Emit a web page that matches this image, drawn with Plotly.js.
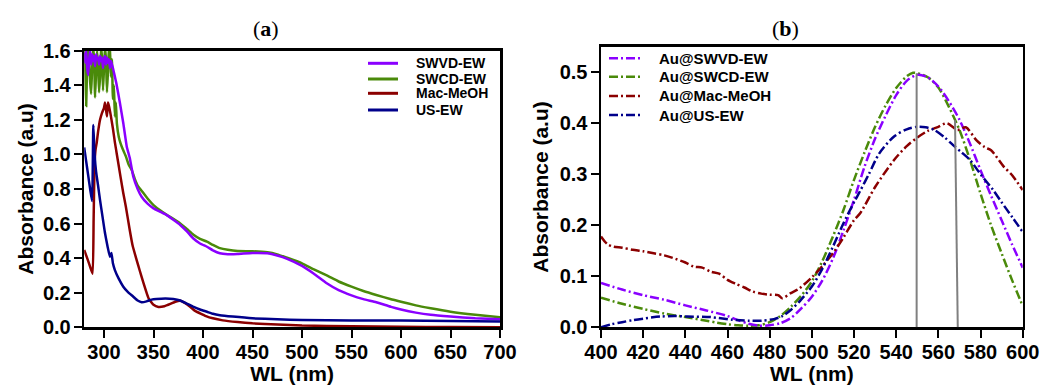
<!DOCTYPE html>
<html><head><meta charset="utf-8">
<script src="https://cdn.plot.ly/plotly-3.0.1.min.js"></script>
<style>html,body{margin:0;padding:0;background:#fff}#chart{width:1041px;height:385px}</style>
</head><body><div id="chart"></div>
<script>
// ---------- Panel (a) data ----------
const namesA = ['SWVD-EW', 'SWCD-EW', 'Mac-MeOH', 'US-EW'];
const aSwvdX = [280,281,282,283,284,285,286,287,288,289,290,291,292,293,294,295,296,297,298,299,300,301,302,303,304,305,306,307,308,309,
  312.5,316,319.5,323,326,329.6,334,338,344,350,357,363,370,377,384,390,397,404,410,417,425,435,450,465,475,485,500,512,525,537,550,562,575,590,600,615,630,650,675,700];
const aSwvdY = [1.59,1.53,1.60,1.50,1.46,1.55,1.60,1.52,1.58,1.54,1.57,1.51,1.58,1.55,1.56,1.52,1.57,1.54,1.56,1.50,1.55,1.57,1.52,1.56,1.53,1.55,1.50,1.54,1.52,1.50,
  1.41,1.30,1.18,1.045,0.98,0.871,0.80,0.755,0.715,0.688,0.668,0.65,0.622,0.592,0.553,0.515,0.485,0.466,0.445,0.428,0.423,0.424,0.43,0.428,0.415,0.396,0.355,0.31,0.255,0.215,0.185,0.163,0.145,0.118,0.103,0.085,0.072,0.062,0.052,0.046];
const aSwcdX = [280,281,282,283,284,285,286,287,288,289,290,291,292,293,294,295,296,297,298,299,300,301,302,303,304,305,306,307,
  308,309,310,311,312,313,315,317,319,322,325,328,331,334,338,344,350,357,363,370,377,384,390,397,404,410,417,425,435,450,465,475,485,500,512,525,537,550,562,575,590,600,615,630,650,675,700];
const aSwcdY = [1.62,1.50,1.28,1.52,1.62,1.55,1.42,1.35,1.50,1.62,1.55,1.33,1.48,1.60,1.52,1.36,1.45,1.62,1.56,1.37,1.50,1.62,1.55,1.36,1.48,1.62,1.60,1.45,
  1.55,1.32,1.40,1.22,1.30,1.18,1.10,1.06,1.03,0.99,0.94,0.91,0.86,0.82,0.79,0.745,0.707,0.675,0.652,0.627,0.60,0.567,0.537,0.512,0.495,0.477,0.458,0.448,0.441,0.44,0.434,0.422,0.402,0.37,0.335,0.30,0.265,0.235,0.21,0.187,0.162,0.148,0.127,0.11,0.09,0.072,0.058];
const aMacX = [280,283,286,288.5,289.5,290.5,291.5,292.6,294,296,298,300,301,302,303,304,305,307,309,311,313,315,317,319.5,322,326,329,333,336,340,345,350,355,361,367,372,377,382,387,392,397,403,410,420,435,450,475,500,550,600,650,700];
const aMacY = [0.447,0.40,0.35,0.31,0.62,0.95,1.03,1.066,1.13,1.20,1.24,1.27,1.30,1.26,1.22,1.30,1.28,1.22,1.15,1.07,1.0,0.93,0.86,0.775,0.70,0.563,0.47,0.389,0.33,0.254,0.168,0.13,0.118,0.122,0.135,0.148,0.154,0.14,0.119,0.095,0.081,0.065,0.052,0.04,0.03,0.023,0.016,0.01,0.006,0.003,0.002,0.001];
const aUsX = [280,282,284,286,288,289.2,290.5,292,294,296,298.5,301,303.5,306,307.5,309,311,315,319.5,324,329.6,334,338,343,348,353,362,370,377,383,390,397,404,410,417,430,450,475,500,550,600,650,700];
const aUsY = [1.04,0.96,0.88,0.80,0.73,1.17,1.0,0.90,0.82,0.736,0.64,0.545,0.47,0.408,0.43,0.37,0.331,0.28,0.235,0.205,0.177,0.155,0.145,0.15,0.16,0.164,0.167,0.164,0.155,0.139,0.12,0.103,0.09,0.078,0.07,0.062,0.052,0.046,0.042,0.04,0.039,0.036,0.033];

// ---------- Panel (b) data ----------
const namesB = ['Au@SWVD-EW', 'Au@SWCD-EW', 'Au@Mac-MeOH', 'Au@US-EW'];
const bSwvdX = [400,410,420,430,440,450,460,465,470,475,480,485,490,495,500,505,510,515,520,525,530,535,540,545,550,555,560,565,570,575,580,585,590,595,600];
const bSwvdY = [0.087,0.074,0.063,0.054,0.043,0.033,0.022,0.014,0.007,0.003,0.004,0.008,0.018,0.037,0.06,0.092,0.135,0.19,0.25,0.315,0.37,0.415,0.455,0.483,0.495,0.49,0.472,0.443,0.407,0.36,0.308,0.258,0.21,0.162,0.117];
const bSwcdX = [400,410,420,430,440,450,455,460,465,470,475,480,485,490,495,500,505,510,515,520,525,530,535,540,545,548,550,555,560,565,570,575,580,585,590,595,600];
const bSwcdY = [0.058,0.046,0.036,0.027,0.02,0.013,0.009,0.006,0.004,0.003,0.004,0.01,0.022,0.04,0.062,0.09,0.13,0.178,0.23,0.289,0.343,0.393,0.435,0.469,0.492,0.499,0.498,0.49,0.47,0.432,0.387,0.328,0.262,0.20,0.145,0.092,0.042];
const bMacX = [400,403,406,410,415,420,425,430,434,440,444,448,452,456,460,464,468,472,476,480,484,486,490,494,500,505,510,515,520,523,530,539,545,550,555,560,564,569,573,578,582,585,591,595,600];
const bMacY = [0.178,0.163,0.158,0.156,0.152,0.149,0.145,0.141,0.136,0.127,0.119,0.117,0.109,0.105,0.093,0.085,0.078,0.07,0.066,0.064,0.063,0.057,0.067,0.076,0.098,0.12,0.145,0.176,0.21,0.224,0.275,0.328,0.355,0.372,0.385,0.393,0.40,0.387,0.392,0.367,0.353,0.347,0.315,0.298,0.269];
const bUsX = [400,405,410,415,420,428,435,441,452,462,470,476,482,486,490,494,500,505,510,515,520,523,527,532,539,545,550,554,558,563,567,571,575,580,586,590,595,600];
const bUsY = [0,0.006,0.01,0.014,0.017,0.021,0.022,0.021,0.02,0.015,0.013,0.013,0.016,0.022,0.034,0.05,0.08,0.115,0.158,0.204,0.245,0.268,0.30,0.341,0.374,0.388,0.393,0.392,0.387,0.372,0.357,0.343,0.328,0.30,0.269,0.245,0.216,0.187];

// peak marker lines in panel (b): [x at bottom, x at top, top absorbance]
const peakBottomX = [549.7, 569.2];
const peakTopX = [549.7, 567.9];
const peakTopY = [0.498, 0.406];

// tick labels
const xTicksA = [300,350,400,450,500,550,600,650,700];
const yTicksA = [0,0.2,0.4,0.6,0.8,1.0,1.2,1.4,1.6];
const xTicksB = [400,420,440,460,480,500,520,540,560,580,600];
const yTicksB = [0,0.1,0.2,0.3,0.4,0.5];

// ---------- styling ----------
const colors = ['#8a00ff', '#4a8a0a', '#8b0000', '#00008b'];
const drawOrder = [1, 0, 2, 3];
const W = 1041, H = 385;
const px = p => p / W, py = p => 1 - p / H;
const SANS = 'Liberation Sans, Arial, sans-serif';
const dashDot = '9px,3px,2px,3px';

const seriesA = [[aSwvdX, aSwvdY], [aSwcdX, aSwcdY], [aMacX, aMacY], [aUsX, aUsY]];
const seriesB = [[bSwvdX, bSwvdY], [bSwcdX, bSwcdY], [bMacX, bMacY], [bUsX, bUsY]];

const traces = [];
drawOrder.forEach(i => traces.push({
  x: seriesA[i][0], y: seriesA[i][1], name: namesA[i], type: 'scatter', mode: 'lines', xaxis: 'x', yaxis: 'y',
  line: {color: colors[i], width: 2.5, shape: 'spline', smoothing: 0.4}, showlegend: false
}));
drawOrder.forEach(i => traces.push({
  x: seriesB[i][0], y: seriesB[i][1], name: namesB[i], type: 'scatter', mode: 'lines', xaxis: 'x2', yaxis: 'y2',
  line: {color: colors[i], width: 2.5, dash: dashDot, shape: 'spline', smoothing: 0.8}, showlegend: false
}));

const tickFont = {family: SANS, size: 20, weight: 'bold', color: '#000'};
const titleFont = {family: SANS, size: 21, weight: 'bold', color: '#000'};
const axBase = {
  showline: true, linewidth: 2.5, linecolor: '#000', mirror: true,
  ticks: 'outside', ticklen: 8, tickwidth: 2, tickcolor: '#000',
  showgrid: false, zeroline: false, tickfont: tickFont, fixedrange: true
};

const shapes = [];
const annotations = [];
// peak lines
peakBottomX.forEach((xb, i) => shapes.push({
  type: 'line', xref: 'x2', yref: 'y2', x0: xb, y0: 0, x1: peakTopX[i], y1: peakTopY[i],
  line: {color: '#808080', width: 2}
}));
// legend (a)
const legAy = [63.3, 79, 93.3, 110];
namesA.forEach((n, i) => {
  shapes.push({type: 'line', xref: 'paper', yref: 'paper', x0: px(368), x1: px(398), y0: py(legAy[i]), y1: py(legAy[i]),
    line: {color: colors[i], width: 3}});
  annotations.push({xref: 'paper', yref: 'paper', x: px(414), y: py(legAy[i]), xanchor: 'left', yanchor: 'middle',
    text: n, showarrow: false, font: {family: SANS, size: 14, weight: 'bold', color: '#000'}});
});
// legend (b)
const legBy = [58.3, 76.7, 96, 115];
namesB.forEach((n, i) => {
  shapes.push({type: 'line', xref: 'paper', yref: 'paper', x0: px(609), x1: px(642), y0: py(legBy[i]), y1: py(legBy[i]),
    line: {color: colors[i], width: 2.5, dash: dashDot}});
  annotations.push({xref: 'paper', yref: 'paper', x: px(657), y: py(legBy[i]), xanchor: 'left', yanchor: 'middle',
    text: n, showarrow: false, font: {family: SANS, size: 15, weight: 'bold', color: '#000'}});
});
// panel titles
annotations.push({xref: 'paper', yref: 'paper', x: px(266), y: py(28), xanchor: 'center', yanchor: 'middle',
  text: '(<b>a</b>)', showarrow: false, font: {family: 'Liberation Serif, Times New Roman, serif', size: 22, color: '#000'}});
annotations.push({xref: 'paper', yref: 'paper', x: px(785), y: py(28), xanchor: 'center', yanchor: 'middle',
  text: '(<b>b</b>)', showarrow: false, font: {family: 'Liberation Serif, Times New Roman, serif', size: 22, color: '#000'}});

const layout = {
  width: W, height: H, margin: {l: 0, r: 0, t: 0, b: 0},
  paper_bgcolor: '#fff', plot_bgcolor: '#fff', showlegend: false,
  font: {family: SANS, color: '#000'},
  xaxis: Object.assign({}, axBase, {domain: [px(84.2), px(500)], range: [280, 700], tickvals: xTicksA, anchor: 'y',
    ticklabelstandoff: -3, title: {text: 'WL (nm)', font: titleFont, standoff: 0}}),
  yaxis: Object.assign({}, axBase, {domain: [py(327.3), py(50.7)], range: [0, 1.6], tickvals: yTicksA, tickformat: '.1f', anchor: 'x',
    ticklabelstandoff: -1, title: {text: 'Absorbance (a.u)', font: titleFont, standoff: 4}}),
  xaxis2: Object.assign({}, axBase, {domain: [px(601), px(1022.7)], range: [400, 600], tickvals: xTicksB, anchor: 'y2',
    ticklabelstandoff: -3, title: {text: 'WL (nm)', font: titleFont, standoff: 0}}),
  yaxis2: Object.assign({}, axBase, {domain: [py(327.3), py(46.7)], range: [0, 0.55], tickvals: yTicksB, tickformat: '.1f', anchor: 'x2',
    ticklabelstandoff: -1, title: {text: 'Absorbance (a.u)', font: titleFont, standoff: 6}}),
  shapes: shapes, annotations: annotations
};

Plotly.newPlot('chart', traces, layout, {staticPlot: true, displayModeBar: false});
</script></body></html>
